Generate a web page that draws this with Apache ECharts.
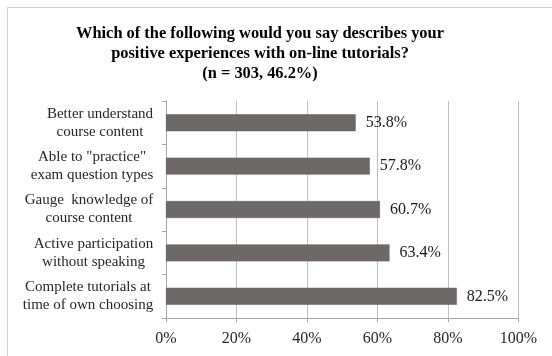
<!DOCTYPE html>
<html>
<head>
<meta charset="utf-8">
<style>
  html, body { margin: 0; padding: 0; background: #ffffff; }
  #chart { width: 552px; height: 356px; }
</style>
<script src="https://cdn.jsdelivr.net/npm/echarts@6/dist/echarts.min.js"></script>
</head>
<body>
<div id="chart"></div>
<script>
// Survey responses, top to bottom
const categories = [
  'Better understand\ncourse content',
  'Able to "practice"\nexam question types',
  'Gauge  knowledge of\ncourse content',
  'Active participation\nwithout speaking',
  'Complete tutorials at\ntime of own choosing'
];
const percentages = [53.8, 57.8, 60.7, 63.4, 82.5];
const xTicks = [0, 20, 40, 60, 80, 100];

const titleLines = [
  'Which of the following would you say describes your',
  'positive experiences with on-line tutorials?',
  '(n = 303, 46.2%)'
];

const serif = '"Liberation Serif", "Times New Roman", serif';
const catFontSize = 15;

// Each wrapped label is a block right-aligned to the axis, its lines centred inside it
const ctx = document.createElement('canvas').getContext('2d');
ctx.font = catFontSize + 'px ' + serif;
const rich = {};
categories.forEach((c, i) => {
  const w = Math.max(...c.split('\n').map(s => ctx.measureText(s).width));
  rich['c' + i] = {
    width: Math.ceil(w) + 1, align: 'center',
    fontFamily: serif, fontSize: catFontSize, color: '#262626', lineHeight: 18
  };
});

const chart = echarts.init(document.getElementById('chart'), null, { renderer: 'canvas' });
chart.setOption({
  backgroundColor: '#ffffff',
  animation: false,
  title: {
    text: titleLines.join('\n'),
    left: 255,
    top: 19,
    textAlign: 'center',
    textStyle: {
      fontFamily: serif, fontSize: 16.4, fontWeight: 'bold',
      color: '#000000', lineHeight: 20
    }
  },
  graphic: [{
    type: 'rect',
    shape: { x: 7.5, y: 7.5, width: 600, height: 400 },
    style: { fill: 'none', stroke: '#d0d0d0', lineWidth: 1 },
    silent: true, z: -1
  }],
  grid: { left: 166, right: 33.5, top: 101, bottom: 38, containLabel: false },
  xAxis: {
    type: 'value',
    min: 0, max: 100, interval: 20,
    axisLine: { show: true, lineStyle: { color: '#a6a6a6' } },
    axisTick: { show: true, length: 4, lineStyle: { color: '#a6a6a6' } },
    splitLine: { show: true, lineStyle: { color: '#bfbfbf' } },
    axisLabel: {
      formatter: v => xTicks.includes(v) ? v + '%' : '',
      fontFamily: serif, fontSize: 16, color: '#262626', margin: 13
    }
  },
  yAxis: {
    type: 'category',
    data: categories,
    inverse: true,
    axisLine: { show: true, lineStyle: { color: '#a6a6a6' } },
    axisTick: { show: true, length: 4, alignWithLabel: false, lineStyle: { color: '#a6a6a6' } },
    splitLine: { show: false },
    axisLabel: {
      margin: 12,
      align: 'right',
      formatter: (v, i) => v.split('\n').map(s => '{c' + i + '|' + s + '}').join('\n'),
      rich: rich
    }
  },
  series: [{
    type: 'bar',
    data: percentages,
    barWidth: '39%',
    itemStyle: { color: '#6d6968', borderColor: '#5e5a59', borderWidth: 0.5 },
    label: {
      show: true,
      position: 'right',
      distance: 10,
      formatter: p => p.value.toFixed(1) + '%',
      fontFamily: serif, fontSize: 16, color: '#1a1a1a'
    }
  }]
});
</script>
</body>
</html>
